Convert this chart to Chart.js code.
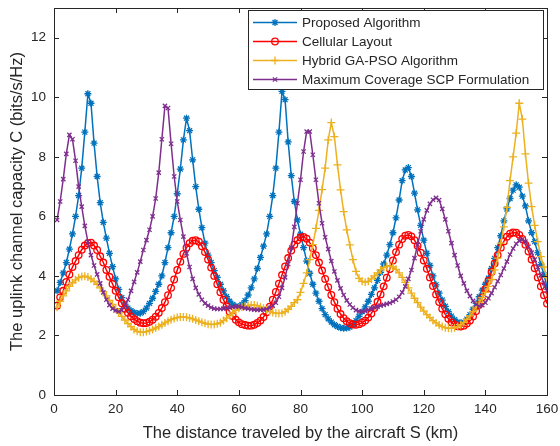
<!DOCTYPE html>
<html>
<head>
<meta charset="utf-8">
<script src="https://cdn.jsdelivr.net/npm/chart.js"></script>
<style>
body { margin: 0; background: #ffffff; }
canvas { display: block; }
</style>
</head>
<body>
<canvas id="capacityChart" width="560" height="446"></canvas>
<script>
// distance along the route, km
var distance = [
  1, 2, 3, 4, 5, 6, 7, 8, 9, 10, 11, 12, 13, 14, 15, 16, 17, 18, 19, 20,
  21, 22, 23, 24, 25, 26, 27, 28, 29, 30, 31, 32, 33, 34, 35, 36, 37, 38, 39, 40,
  41, 42, 43, 44, 45, 46, 47, 48, 49, 50, 51, 52, 53, 54, 55, 56, 57, 58, 59, 60,
  61, 62, 63, 64, 65, 66, 67, 68, 69, 70, 71, 72, 73, 74, 75, 76, 77, 78, 79, 80,
  81, 82, 83, 84, 85, 86, 87, 88, 89, 90, 91, 92, 93, 94, 95, 96, 97, 98, 99, 100,
  101, 102, 103, 104, 105, 106, 107, 108, 109, 110, 111, 112, 113, 114, 115, 116, 117, 118, 119, 120,
  121, 122, 123, 124, 125, 126, 127, 128, 129, 130, 131, 132, 133, 134, 135, 136, 137, 138, 139, 140,
  141, 142, 143, 144, 145, 146, 147, 148, 149, 150, 151, 152, 153, 154, 155, 156, 157, 158, 159, 160
]

// capacity values, bits/s/Hz
var proposed = [
  3.50, 3.78, 4.10, 4.45, 4.90, 5.41, 6.00, 6.70, 7.62, 8.83,
  10.12, 9.80, 8.46, 7.34, 6.46, 5.80, 5.27, 4.76, 4.31, 3.90,
  3.55, 3.27, 3.05, 2.92, 2.83, 2.77, 2.74, 2.75, 2.80, 2.92,
  3.08, 3.25, 3.48, 3.72, 4.00, 4.45, 4.95, 5.45, 6.00, 6.76,
  7.59, 8.57, 9.30, 8.88, 7.90, 7.00, 6.24, 5.62, 5.10, 4.70,
  4.45, 4.18, 3.95, 3.72, 3.50, 3.30, 3.15, 3.04, 2.98, 2.97,
  3.04, 3.17, 3.36, 3.60, 3.90, 4.25, 4.62, 5.00, 5.41, 6.00,
  6.70, 7.62, 8.83, 10.20, 9.92, 8.50, 7.37, 6.50, 5.88, 5.40,
  4.95, 4.50, 4.09, 3.72, 3.42, 3.15, 2.90, 2.70, 2.56, 2.45,
  2.36, 2.30, 2.26, 2.24, 2.25, 2.28, 2.36, 2.50, 2.64, 2.80,
  2.96, 3.15, 3.38, 3.60, 3.85, 4.12, 4.40, 4.70, 5.05, 5.45,
  5.95, 6.55, 7.20, 7.56, 7.64, 7.34, 6.78, 6.22, 5.70, 5.20,
  4.76, 4.35, 4.00, 3.70, 3.42, 3.19, 2.98, 2.80, 2.65, 2.53,
  2.45, 2.42, 2.45, 2.55, 2.70, 2.88, 3.08, 3.30, 3.52, 3.72,
  3.92, 4.25, 4.59, 4.95, 5.35, 5.85, 6.25, 6.60, 6.88, 7.06,
  6.98, 6.68, 6.35, 5.85, 5.45, 5.15, 4.78, 4.38, 4.05, 3.62
]

var cellular = [
  3.00, 3.28, 3.50, 3.80, 4.05, 4.30, 4.50, 4.70, 4.88, 5.02,
  5.10, 5.12, 5.02, 4.87, 4.66, 4.45, 4.20, 3.97, 3.73, 3.50,
  3.28, 3.08, 2.90, 2.76, 2.64, 2.55, 2.48, 2.43, 2.41, 2.42,
  2.46, 2.53, 2.63, 2.76, 2.92, 3.12, 3.35, 3.60, 3.88, 4.20,
  4.48, 4.74, 4.95, 5.10, 5.18, 5.20, 5.15, 5.00, 4.80, 4.55,
  4.28, 4.00, 3.72, 3.45, 3.20, 2.98, 2.80, 2.65, 2.53, 2.44,
  2.38, 2.35, 2.33, 2.33, 2.36, 2.42, 2.50, 2.62, 2.78, 2.97,
  3.20, 3.46, 3.74, 4.03, 4.32, 4.60, 4.85, 5.05, 5.20, 5.29,
  5.31, 5.25, 5.12, 4.93, 4.70, 4.45, 4.18, 3.90, 3.62, 3.36,
  3.12, 2.90, 2.72, 2.58, 2.48, 2.41, 2.37, 2.36, 2.38, 2.43,
  2.50, 2.60, 2.74, 2.92, 3.13, 3.38, 3.65, 3.94, 4.23, 4.52,
  4.80, 5.05, 5.24, 5.35, 5.38, 5.33, 5.20, 5.01, 4.78, 4.52,
  4.24, 3.95, 3.66, 3.38, 3.12, 2.90, 2.71, 2.56, 2.44, 2.36,
  2.31, 2.30, 2.33, 2.40, 2.50, 2.64, 2.82, 3.03, 3.28, 3.55,
  3.84, 4.13, 4.42, 4.70, 4.95, 5.16, 5.32, 5.42, 5.46, 5.45,
  5.38, 5.24, 5.05, 4.82, 4.55, 4.26, 3.95, 3.65, 3.35, 3.07
]

var hybridGaPso = [
  2.95, 3.15, 3.33, 3.50, 3.65, 3.77, 3.87, 3.94, 3.98, 3.99,
  3.96, 3.90, 3.82, 3.72, 3.60, 3.47, 3.33, 3.18, 3.04, 2.90,
  2.77, 2.64, 2.52, 2.40, 2.30, 2.20, 2.14, 2.11, 2.11, 2.13,
  2.16, 2.20, 2.25, 2.30, 2.36, 2.42, 2.48, 2.53, 2.57, 2.60,
  2.62, 2.62, 2.61, 2.59, 2.56, 2.52, 2.48, 2.44, 2.41, 2.38,
  2.37, 2.37, 2.39, 2.43, 2.50, 2.58, 2.67, 2.76, 2.84, 2.91,
  2.96, 2.99, 3.01, 3.02, 3.02, 3.00, 2.96, 2.91, 2.86, 2.81,
  2.77, 2.75, 2.74, 2.75, 2.80, 2.88, 2.98, 3.10, 3.20, 3.45,
  3.75, 4.10, 4.55, 5.05, 5.60, 6.20, 6.90, 7.62, 8.57, 9.15,
  8.68, 7.73, 6.89, 6.16, 5.55, 5.04, 4.55, 4.15, 3.92, 3.82,
  3.79, 3.82, 3.90, 4.00, 4.10, 4.20, 4.28, 4.32, 4.33, 4.30,
  4.22, 4.10, 3.95, 3.78, 3.60, 3.42, 3.25, 3.10, 2.95, 2.82,
  2.70, 2.60, 2.50, 2.42, 2.35, 2.30, 2.26, 2.24, 2.24, 2.26,
  2.30, 2.36, 2.44, 2.54, 2.66, 2.80, 2.95, 3.10, 3.27, 3.45,
  3.65, 3.88, 4.20, 4.60, 5.10, 5.65, 6.30, 7.20, 8.00, 8.80,
  9.80, 9.27, 8.10, 7.12, 6.33, 5.70, 5.15, 4.65, 4.30, 3.95
]

var maxCoverageScp = [
  5.88, 6.50, 7.25, 8.10, 8.74, 8.59, 7.87, 7.00, 6.33, 5.68,
  5.15, 4.70, 4.35, 4.05, 3.75, 3.45, 3.20, 3.02, 2.90, 2.84,
  2.80, 2.85, 3.00, 3.20, 3.50, 3.80, 4.12, 4.48, 4.87, 5.20,
  5.55, 6.00, 6.60, 7.47, 8.59, 9.71, 9.64, 8.44, 7.34, 6.50,
  5.88, 5.32, 4.76, 4.30, 3.90, 3.60, 3.38, 3.20, 3.08, 3.00,
  2.94, 2.90, 2.89, 2.89, 2.90, 2.92, 2.94, 2.96, 2.97, 2.97,
  2.95, 2.92, 2.90, 2.88, 2.87, 2.86, 2.86, 2.87, 2.89, 2.93,
  3.00, 3.10, 3.30, 3.60, 3.95, 4.40, 4.95, 5.65, 6.44, 7.23,
  8.18, 8.85, 8.85, 8.07, 7.23, 6.44, 5.77, 5.30, 4.90, 4.50,
  4.15, 3.85, 3.58, 3.36, 3.18, 3.04, 2.93, 2.85, 2.81, 2.80,
  2.82, 2.86, 2.90, 2.94, 2.97, 3.00, 3.03, 3.06, 3.09, 3.14,
  3.20, 3.30, 3.45, 3.65, 3.90, 4.20, 4.60, 5.05, 5.50, 5.90,
  6.20, 6.42, 6.56, 6.62, 6.55, 6.25, 5.90, 5.50, 5.10, 4.70,
  4.35, 4.00, 3.75, 3.50, 3.32, 3.16, 3.04, 2.98, 3.02, 3.10,
  3.25, 3.42, 3.62, 3.82, 4.03, 4.25, 4.48, 4.72, 4.92, 5.08,
  5.18, 5.23, 5.15, 4.98, 4.78, 4.55, 4.30, 4.02, 3.76, 3.50
]

var seriesNames = ["Proposed Algorithm", "Cellular Layout", "Hybrid GA-PSO Algorithm", "Maximum Coverage SCP Formulation"]
var xTicks = [0, 20, 40, 60, 80, 100, 120, 140, 160]
var yTicks = [0, 2, 4, 6, 8, 10, 12]

var ink = "#262626"
var fontFamily = "'Liberation Sans', Arial, Helvetica, sans-serif"

function pairs(values) {
    return values.map(function (v, i) { return { x: distance[i], y: v } })
}

function series(label, values, color, marker, radius, order) {
    return {
        label: label,
        data: pairs(values),
        borderColor: color,
        backgroundColor: color,
        borderWidth: 1.5,
        pointStyle: marker,
        pointRadius: radius,
        pointBorderWidth: 1.3,
        pointBorderColor: color,
        pointBackgroundColor: marker === "circle" ? "rgba(0,0,0,0)" : color,
        tension: 0,
        order: order
    }
}

var datasets = [
    series(seriesNames[0], proposed, "#0072BD", "star", 3.5, 3),
    series(seriesNames[1], cellular, "#FF0000", "circle", 3.3, 2),
    series(seriesNames[2], hybridGaPso, "#EDB120", "cross", 4, 1),
    series(seriesNames[3], maxCoverageScp, "#7E2F8E", "crossRot", 3, 0)
]

function noPadding(scale) {
    scale.paddingLeft = 0
    scale.paddingRight = 0
    scale.paddingTop = 0
    scale.paddingBottom = 0
}

// box, inward ticks, axis titles and legend in the MATLAB look
var frame = {
    id: "frame",
    afterDraw: function (chart) {
        var ctx = chart.ctx
        var a = chart.chartArea
        var xs = chart.scales.x
        var ys = chart.scales.y
        ctx.save()
        ctx.strokeStyle = ink
        ctx.lineWidth = 1
        ctx.strokeRect(Math.round(a.left) + 0.5, Math.round(a.top) + 0.5,
            Math.round(a.right - a.left), Math.round(a.bottom - a.top))
        ctx.beginPath()
        xTicks.forEach(function (t) {
            var px = Math.round(xs.getPixelForValue(t)) + 0.5
            ctx.moveTo(px, a.bottom); ctx.lineTo(px, a.bottom - 5)
            ctx.moveTo(px, a.top); ctx.lineTo(px, a.top + 5)
        })
        yTicks.forEach(function (t) {
            var py = Math.round(ys.getPixelForValue(t)) + 0.5
            ctx.moveTo(a.left, py); ctx.lineTo(a.left + 5, py)
            ctx.moveTo(a.right, py); ctx.lineTo(a.right - 5, py)
        })
        ctx.stroke()

        ctx.fillStyle = ink
        ctx.font = "16.5px " + fontFamily
        ctx.textAlign = "center"
        ctx.textBaseline = "middle"
        ctx.fillText("The distance traveled by the aircraft S (km)", (a.left + a.right) / 2, 433)
        ctx.translate(17.5, (a.top + a.bottom) / 2)
        ctx.rotate(-Math.PI / 2)
        ctx.fillText("The uplink channel capacity C (bits/s/Hz)", 0, 0)
        ctx.restore()

        // legend
        ctx.save()
        var lx = 248, ly = 10, lw = 295, lh = 79
        ctx.fillStyle = "#ffffff"
        ctx.fillRect(lx, ly, lw, lh)
        ctx.strokeStyle = ink
        ctx.lineWidth = 1
        ctx.strokeRect(lx + 0.5, ly + 0.5, lw, lh)
        ctx.font = "13.5px " + fontFamily
        ctx.textAlign = "left"
        ctx.textBaseline = "middle"
        datasets.forEach(function (ds, i) {
            var y = 22.5 + i * 19
            ctx.strokeStyle = ds.borderColor
            ctx.lineWidth = 1.5
            ctx.beginPath()
            ctx.moveTo(253, y); ctx.lineTo(297, y)
            ctx.stroke()
            ctx.fillStyle = ds.pointBackgroundColor
            ctx.lineWidth = ds.pointBorderWidth
            Chart.helpers.drawPoint(ctx, {
                pointStyle: ds.pointStyle, radius: ds.pointRadius,
                borderWidth: ds.pointBorderWidth, rotation: 0
            }, 275, y)
            ctx.fillStyle = ink
            ctx.fillText(ds.label, 302, y + 0.5)
        })
        ctx.restore()
    }
}

var capacityChart = new Chart(document.getElementById("capacityChart").getContext("2d"), {
    type: "line",
    data: { datasets: datasets },
    options: {
        responsive: false,
        animation: false,
        devicePixelRatio: 1,
        layout: { padding: { left: 0, right: 13, top: 8, bottom: 0 } },
        plugins: {
            legend: { display: false },
            tooltip: { enabled: false }
        },
        scales: {
            x: {
                type: "linear",
                min: 0,
                max: 160,
                afterFit: function (scale) { scale.height = 51; noPadding(scale) },
                afterBuildTicks: function (scale) {
                    scale.ticks = xTicks.map(function (v) { return { value: v } })
                },
                grid: { display: false, drawTicks: false },
                border: { display: false },
                ticks: { color: ink, padding: 6, maxRotation: 0, font: { family: fontFamily, size: 13.5 } }
            },
            y: {
                type: "linear",
                min: 0,
                max: 13,
                afterFit: function (scale) { scale.width = 54; noPadding(scale) },
                afterBuildTicks: function (scale) {
                    scale.ticks = yTicks.map(function (v) { return { value: v } })
                },
                grid: { display: false, drawTicks: false },
                border: { display: false },
                ticks: { color: ink, padding: 8, font: { family: fontFamily, size: 13.5 } }
            }
        }
    },
    plugins: [frame]
})
</script>
</body>
</html>
